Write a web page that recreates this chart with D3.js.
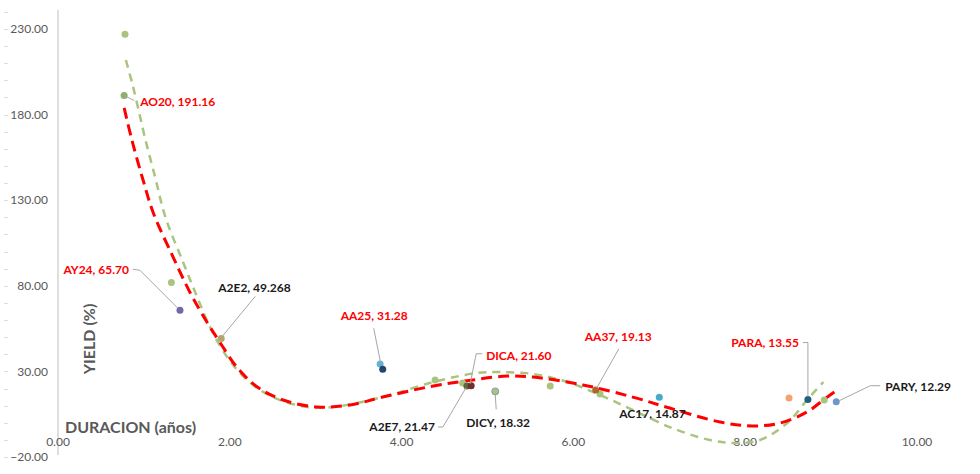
<!DOCTYPE html>
<html>
<head>
<meta charset="utf-8">
<script src="https://cdn.jsdelivr.net/npm/d3@7"></script>
<style>
  body { margin: 0; background: #fff; }
  svg { display: block; font-family: Lato, Calibri, sans-serif; }
</style>
</head>
<body>
<div id="chart"></div>
<script>
  // Labelled bonds: duration (years) and yield (%).
  const bonds = ['AO20', 'AY24', 'A2E2', 'AA25', 'A2E7', 'DICA', 'DICY', 'AA37', 'AC17', 'PARA', 'PARY'];
  const bondLabels = ['191.16', '65.70', '49.268', '31.28', '21.47', '21.60', '18.32', '19.13', '14.87', '13.55', '12.29'];
  const bondDuration = [0.77, 1.42, 1.90, 3.78, 4.76, 4.81, 5.09, 6.26, 7.00, 8.73, 9.06];
  const bondYield = [191.16, 65.70, 49.27, 31.28, 21.47, 21.60, 18.32, 19.13, 14.87, 13.55, 12.29];
  const bondRed = [true, true, false, true, false, true, false, true, false, true, false];

  // Points without a label.
  const greenDuration = [0.78, 1.32, 4.39, 4.71, 5.73, 6.31, 8.92];
  const greenYield = [227.0, 82.0, 25.0, 23.2, 21.5, 16.8, 13.3];
  const extraDuration = [3.75, 8.51];
  const extraYield = [34.3, 14.5];

  // Trend curves.
  const redTrendX = [0.77, 0.86, 0.99, 1.11, 1.34, 1.54, 1.74, 1.89, 2.08, 2.32, 2.62, 3.02, 3.40, 3.78, 4.37, 4.83, 5.23, 5.53, 6.11, 6.69, 7.12, 7.71, 8.09, 8.41, 8.72, 8.91, 9.07];
  const redTrendY = [183.9, 165.2, 141.8, 122.5, 96.8, 75.8, 58.3, 46.6, 32.6, 20.9, 13.3, 9.2, 10.4, 15.0, 21.5, 25.0, 27.3, 26.7, 22.1, 15.0, 8.6, 0.4, -1.9, -0.1, 6.3, 13.3, 19.1];
  const greenTrendX = [0.79, 0.86, 0.93, 1.01, 1.13, 1.25, 1.46, 1.62, 1.77, 1.97, 2.20, 2.50, 2.90, 3.20, 3.78, 4.37, 4.88, 5.15, 5.53, 5.93, 6.31, 6.69, 7.12, 7.59, 7.88, 8.17, 8.49, 8.72, 8.91];
  const greenTrendY = [211.9, 199.0, 184.4, 166.9, 143.6, 120.2, 93.3, 73.5, 55.9, 38.4, 25.0, 15.0, 9.2, 9.2, 15.0, 23.8, 29.1, 29.6, 28.5, 23.8, 16.2, 7.5, -2.5, -10.1, -11.8, -10.1, -0.1, 13.3, 23.8];

  const xTicks = [0, 2, 4, 6, 8, 10];
  const yTicks = [-20, 30, 80, 130, 180, 230];

  // Colours and label placement (pixels from the point).
  const bondColor = ['#8fae6f', '#7467a6', '#b3a66c', '#23466e', '#5d6b3a', '#6e2f30', '#a9c47f', '#b4622c', '#4aa8c8', '#265d7e', '#7095c8'];
  const labelPos = [
    { dx: 16, dy: 6, anchor: 'start', leader: [[2, 1], [10, 5]] },
    { dx: -51, dy: -40, anchor: 'end', leader: [[-2, -2], [-40, -40], [-47, -41]] },
    { dx: -3, dy: -51, anchor: 'start', leader: [[1, -2], [34, -42]] },
    { dx: -42, dy: -53, anchor: 'start', leader: [[-2, -6], [-9, -41]] },
    { dx: -32, dy: 41, anchor: 'end', leader: [[-1, 2], [-24, 41], [-29, 41]] },
    { dx: 15, dy: -30, anchor: 'start', leader: [[-1, -2], [5, -32], [11, -32]] },
    { dx: -29, dy: 31, anchor: 'start', leader: [[0, 3], [1, 18]] },
    { dx: -11, dy: -53, anchor: 'start', leader: [[1, -2], [23, -41]] },
    { dx: -40, dy: 16, anchor: 'start', leader: null },
    { dx: -9, dy: -57, anchor: 'end', leader: [[0, -3], [0, -57], [-5, -57]] },
    { dx: 49, dy: -15, anchor: 'start', leader: [[3, -1], [34, -16], [44, -16]] }
  ];

  const width = 980, height = 474;

  const svg = d3.select('#chart').append('svg')
    .attr('width', width)
    .attr('height', height);

  const x = d3.scaleLinear().domain([0, 10]).range([58, 917]);
  const y = d3.scaleLinear().domain([-20, 230]).range([457, 29]);

  // Vertical axis line at x = 0.
  svg.append('line')
    .attr('x1', x(0)).attr('x2', x(0))
    .attr('y1', 10).attr('y2', y(-20) - 2)
    .attr('stroke', '#bfbfbf')
    .attr('stroke-width', 1);

  // Small ticks at the far left.
  svg.append('g').selectAll('line')
    .data(d3.range(-20, 241, 10))
    .enter().append('line')
    .attr('x1', 4).attr('x2', 8)
    .attr('y1', d => Math.round(y(d)) + 0.5)
    .attr('y2', d => Math.round(y(d)) + 0.5)
    .attr('stroke', '#dcdcdc');

  // Y tick labels.
  svg.append('g').selectAll('text')
    .data(yTicks)
    .enter().append('text')
    .attr('x', 48)
    .attr('y', d => y(d))
    .attr('dy', '0.35em')
    .attr('text-anchor', 'end')
    .attr('fill', '#595959')
    .style('font-size', '12px')
    .text(d => d3.format('.2f')(d));

  // X tick labels.
  svg.append('g').selectAll('text')
    .data(xTicks)
    .enter().append('text')
    .attr('x', d => x(d))
    .attr('y', 442)
    .attr('dy', '0.35em')
    .attr('text-anchor', 'middle')
    .attr('fill', '#595959')
    .style('font-size', '12px')
    .text(d => d3.format('.2f')(d));

  // Axis titles.
  svg.append('text')
    .attr('x', 65).attr('y', 427)
    .attr('dy', '0.35em')
    .attr('fill', '#595959')
    .style('font-size', '16px')
    .style('font-weight', 'bold')
    .text('DURACION (años)');

  svg.append('text')
    .attr('transform', 'translate(89,339) rotate(-90)')
    .attr('dy', '0.35em')
    .attr('text-anchor', 'middle')
    .attr('fill', '#595959')
    .style('font-size', '16px')
    .style('font-weight', 'bold')
    .text('YIELD (%)');

  // Trend lines.
  const line = d3.line()
    .x(d => x(d[0]))
    .y(d => y(d[1]))
    .curve(d3.curveCatmullRom);

  svg.append('path')
    .datum(d3.zip(greenTrendX, greenTrendY))
    .attr('fill', 'none')
    .attr('stroke', '#a9c47f')
    .attr('stroke-width', 2.5)
    .attr('stroke-dasharray', '8,6')
    .attr('d', line);

  svg.append('path')
    .datum(d3.zip(redTrendX, redTrendY))
    .attr('fill', 'none')
    .attr('stroke', '#ff0000')
    .attr('stroke-width', 3)
    .attr('stroke-dasharray', '11,6')
    .attr('d', line);

  // Unlabelled points.
  svg.append('g').selectAll('circle')
    .data(d3.zip(greenDuration, greenYield))
    .enter().append('circle')
    .attr('cx', d => x(d[0]))
    .attr('cy', d => y(d[1]))
    .attr('r', 3.5)
    .attr('fill', '#a9c47f');

  svg.append('g').selectAll('circle')
    .data(d3.zip(extraDuration, extraYield))
    .enter().append('circle')
    .attr('cx', d => x(d[0]))
    .attr('cy', d => y(d[1]))
    .attr('r', 3.5)
    .attr('fill', (d, i) => ['#63b3d3', '#f4a46b'][i]);

  // Labelled points.
  svg.append('g').selectAll('circle')
    .data(bonds)
    .enter().append('circle')
    .attr('cx', (d, i) => x(bondDuration[i]))
    .attr('cy', (d, i) => y(bondYield[i]))
    .attr('r', 3.5)
    .attr('fill', (d, i) => bondColor[i])
    .attr('stroke', (d, i) => d == 'DICY' ? '#8a94b8' : 'none');

  // Leader lines.
  bonds.forEach((d, i) => {
    const p = labelPos[i];
    if (!p.leader) return;
    const px = x(bondDuration[i]), py = y(bondYield[i]);
    svg.append('path')
      .datum(p.leader)
      .attr('fill', 'none')
      .attr('stroke', '#a6a6a6')
      .attr('stroke-width', 1)
      .attr('d', d3.line().x(q => px + q[0]).y(q => py + q[1]));
  });

  // Data labels.
  svg.append('g').selectAll('text')
    .data(bonds)
    .enter().append('text')
    .attr('x', (d, i) => x(bondDuration[i]) + labelPos[i].dx)
    .attr('y', (d, i) => y(bondYield[i]) + labelPos[i].dy)
    .attr('dy', '0.35em')
    .attr('text-anchor', (d, i) => labelPos[i].anchor)
    .attr('fill', (d, i) => bondRed[i] ? '#ff0000' : '#1a1a1a')
    .style('font-size', '12px')
    .style('font-weight', 'bold')
    .text((d, i) => d + ', ' + bondLabels[i]);
</script>
</body>
</html>
